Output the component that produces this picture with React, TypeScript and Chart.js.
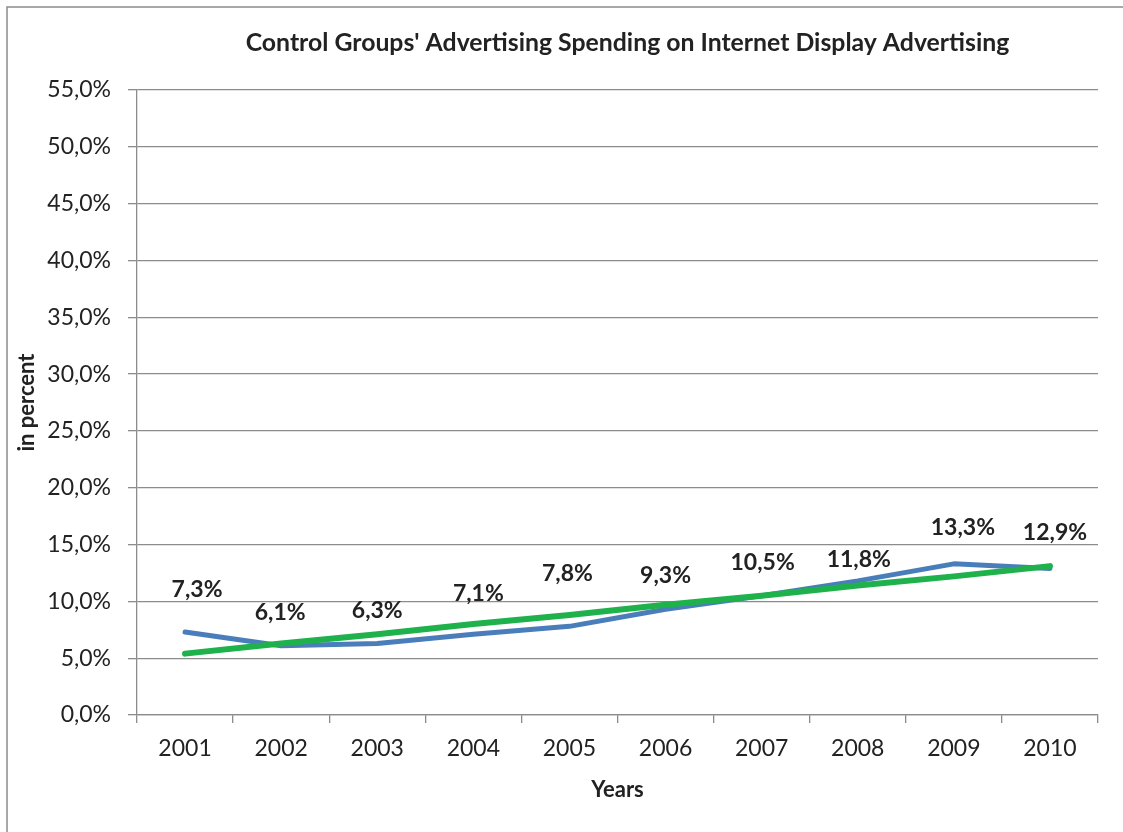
import React, { useEffect, useRef } from "react";
import { Chart, registerables } from "chart.js";

Chart.register(...registerables);

const years = ["2001", "2002", "2003", "2004", "2005", "2006", "2007", "2008", "2009", "2010"];
const spending = [7.3, 6.1, 6.3, 7.1, 7.8, 9.3, 10.5, 11.8, 13.3, 12.9];
const trend = [5.4, 6.3, 7.1, 8.0, 8.8, 9.7, 10.5, 11.4, 12.2, 13.1];
const yTickLabels = ["0,0%", "5,0%", "10,0%", "15,0%", "20,0%", "25,0%", "30,0%", "35,0%", "40,0%", "45,0%", "50,0%", "55,0%"];
const dataLabels = ["7,3%", "6,1%", "6,3%", "7,1%", "7,8%", "9,3%", "10,5%", "11,8%", "13,3%", "12,9%"];
const chartTitle = "Control Groups' Advertising Spending on Internet Display Advertising";

// label nudges (style, in px, relative to each point)
const labelDx = [12, -1, 0, 5, -2, 0, 1, 1, 9, 5];
const labelDy = [42, 33, 33, 41, 53, 34, 33, 21, 36, 36];

const FONT = "Lato, 'Open Sans', sans-serif";
const GRID = "#8c8c8c";
const TEXT = "#222222";

const framePlugin = {
  id: "frame",
  beforeDraw(chart: any) {
    const { ctx, width, height } = chart;
    ctx.save();
    ctx.fillStyle = "#ffffff";
    ctx.fillRect(0, 0, width, height);
    ctx.strokeStyle = GRID;
    ctx.lineWidth = 1.5;
    ctx.beginPath();
    ctx.moveTo(7, height);
    ctx.lineTo(7, 7);
    ctx.lineTo(width, 7);
    ctx.stroke();
    ctx.restore();
  },
};

const titlePlugin = {
  id: "customTitle",
  afterDraw(chart: any) {
    const { ctx, chartArea } = chart;
    ctx.save();
    ctx.font = `bold 24.8px ${FONT}`;
    ctx.fillStyle = TEXT;
    ctx.textAlign = "center";
    ctx.textBaseline = "middle";
    ctx.fillText(chartTitle, (chartArea.left + chartArea.right) / 2 + 10, 43);
    ctx.restore();
  },
};

const labelPlugin = {
  id: "valueLabels",
  afterDatasetsDraw(chart: any) {
    const { ctx } = chart;
    const meta = chart.getDatasetMeta(0);
    ctx.save();
    ctx.font = `bold 23px ${FONT}`;
    ctx.fillStyle = TEXT;
    ctx.textAlign = "center";
    ctx.textBaseline = "middle";
    meta.data.forEach((pt: any, i: number) => {
      ctx.fillText(dataLabels[i], pt.x + labelDx[i], pt.y - labelDy[i]);
    });
    ctx.restore();
  },
};

export default function App() {
  const ref = useRef<HTMLCanvasElement>(null);
  useEffect(() => {
    if (!ref.current) return;
    const chart = new Chart(ref.current, {
      type: "line",
      data: {
        labels: years,
        datasets: [
          {
            label: "Spending",
            data: spending,
            borderColor: "#4a7ebb",
            borderWidth: 5,
            pointRadius: 0,
            tension: 0,
            borderJoinStyle: "round",
            borderCapStyle: "round",
            order: 2,
          },
          {
            label: "Trend",
            data: trend,
            borderColor: "#1fb14c",
            borderWidth: 6,
            pointRadius: 0,
            tension: 0,
            borderCapStyle: "round",
            order: 1,
          },
        ],
      },
      options: {
        responsive: false,
        animation: false,
        devicePixelRatio: 1,
        layout: { padding: { left: 0, right: 25, top: 90, bottom: 0 } },
        plugins: {
          legend: { display: false },
          tooltip: { enabled: false },
          title: { display: false },
        },
        scales: {
          x: {
            offset: true,
            grid: {
              offset: true,
              drawOnChartArea: false,
              drawTicks: true,
              tickLength: 8,
              color: GRID,
              lineWidth: 1.3,
            },
            border: { display: true, color: GRID, width: 1.3 },
            ticks: {
              color: TEXT,
              font: { family: FONT, size: 23 },
              padding: 12,
              maxRotation: 0,
            },
            title: {
              display: true,
              text: "Years",
              color: TEXT,
              font: { family: FONT, size: 22, weight: "bold" },
              padding: { top: 0, bottom: 29 },
            },
            afterFit(scale: any) {
              scale.height = 117;
            },
          },
          y: {
            min: 0,
            max: 55,
            ticks: {
              stepSize: 5,
              color: TEXT,
              font: { family: FONT, size: 23 },
              padding: 17,
              callback: (_v: any, i: number) => yTickLabels[i],
            },
            grid: {
              color: GRID,
              lineWidth: 1.3,
              tickLength: 9,
              drawTicks: true,
            },
            border: { display: true, color: GRID, width: 1.3 },
            title: {
              display: true,
              text: "in percent",
              color: TEXT,
              font: { family: FONT, size: 22, weight: "bold" },
              padding: { top: 14, bottom: 0 },
            },
            afterFit(scale: any) {
              scale.width = 137;
            },
          },
        },
      },
      plugins: [framePlugin, titlePlugin, labelPlugin],
    });
    return () => chart.destroy();
  }, []);

  return (
    <div style={{ position: "absolute", left: 0, top: 0, width: 1123, height: 832 }}>
      <canvas ref={ref} width={1123} height={832} style={{ display: "block" }} />
    </div>
  );
}
